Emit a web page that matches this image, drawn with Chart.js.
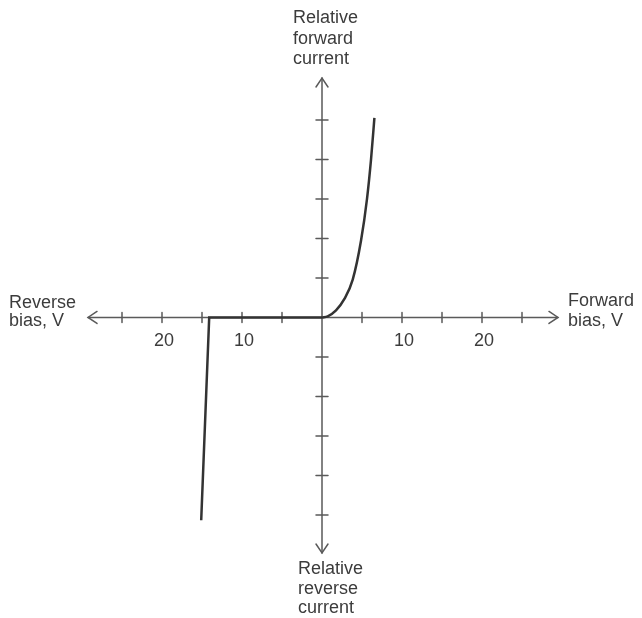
<!DOCTYPE html>
<html>
<head>
<meta charset="utf-8">
<script src="https://cdn.jsdelivr.net/npm/chart.js@4.4.1/dist/chart.umd.min.js"></script>
<style>
  html, body { margin: 0; padding: 0; background: #fff; }
  #wrap { width: 642px; height: 618px; position: relative; }
</style>
</head>
<body>
<div id="wrap"><canvas id="diodeChart"></canvas></div>
<script>
// reverse branch: flat leakage, then breakdown (bias in V, relative current)
const reverseV = [-15.1, -14.1, 0];
const reverseI = [-5.13, 0, 0];

// forward branch
const forwardV = [0, 0.71, 1.75, 2.8, 3.84, 4.88, 5.63, 6.13, 6.55];
const forwardI = [0, 0.03, 0.18, 0.47, 0.96, 1.95, 3.01, 4.0, 5.05];

// tick marks and the few labelled ticks
const xTicks = [-25, -20, -15, -10, -5, 5, 10, 15, 20, 25];
const xTickLabels = [-20, -10, 10, 20];
const yTicks = [-5, -4, -3, -2, -1, 1, 2, 3, 4, 5];

const topTitle = ['Relative', 'forward', 'current'];
const bottomTitle = ['Relative', 'reverse', 'current'];
const leftTitle = ['Reverse', 'bias, V'];
const rightTitle = ['Forward', 'bias, V'];

const AXIS_COLOR = '#5a5a5a';
const TEXT_COLOR = '#3c3c3c';
const CURVE_COLOR = '#333333';
const FONT = '18px "Liberation Sans", Arial, Helvetica, sans-serif';

function toPoints(xs, ys) {
  return xs.map(function(x, i) {
    return { x: x, y: ys[i] };
  });
}

// open chevron arrowhead, (dx, dy) is the direction the arrow points
function arrowHead(ctx, x, y, dx, dy) {
  var len = 9, half = 6;
  ctx.beginPath();
  ctx.moveTo(x - dx * len - dy * half, y - dy * len - dx * half);
  ctx.lineTo(x, y);
  ctx.lineTo(x - dx * len + dy * half, y - dy * len + dx * half);
  ctx.stroke();
}

function drawLines(ctx, lines, x, y, step) {
  lines.forEach(function(t, i) {
    ctx.fillText(t, x, y + i * step);
  });
}

const crossAxes = {
  id: 'crossAxes',
  beforeDatasetsDraw(chart) {
    const ctx = chart.ctx;
    const xs = chart.scales.x;
    const ys = chart.scales.y;
    const area = chart.chartArea;
    const ox = xs.getPixelForValue(0);
    const oy = ys.getPixelForValue(0);

    ctx.save();
    ctx.strokeStyle = AXIS_COLOR;
    ctx.lineWidth = 1.5;
    ctx.lineCap = 'round';

    ctx.beginPath();
    ctx.moveTo(area.left, oy);
    ctx.lineTo(area.right, oy);
    ctx.moveTo(ox, area.top);
    ctx.lineTo(ox, area.bottom);
    ctx.stroke();

    arrowHead(ctx, area.left, oy, -1, 0);
    arrowHead(ctx, area.right, oy, 1, 0);
    arrowHead(ctx, ox, area.top, 0, -1);
    arrowHead(ctx, ox, area.bottom, 0, 1);

    ctx.beginPath();
    xTicks.forEach(function(v) {
      var px = xs.getPixelForValue(v);
      ctx.moveTo(px, oy - 5);
      ctx.lineTo(px, oy + 5);
    });
    yTicks.forEach(function(v) {
      var py = ys.getPixelForValue(v);
      ctx.moveTo(ox - 6, py);
      ctx.lineTo(ox + 6, py);
    });
    ctx.stroke();

    ctx.fillStyle = TEXT_COLOR;
    ctx.font = FONT;
    ctx.textBaseline = 'alphabetic';
    ctx.textAlign = 'center';
    xTickLabels.forEach(function(v) {
      ctx.fillText(String(Math.abs(v)), xs.getPixelForValue(v) + 2, oy + 29);
    });

    ctx.textAlign = 'left';
    drawLines(ctx, topTitle, ox - 29, area.top - 55, 20.5);
    drawLines(ctx, bottomTitle, ox - 24, area.bottom + 21, 19.5);
    drawLines(ctx, leftTitle, 9, oy - 9, 17.5);
    drawLines(ctx, rightTitle, area.right + 10, oy - 11, 20);
    ctx.restore();
  }
};

new Chart(document.getElementById('diodeChart'), {
  type: 'scatter',
  data: {
    datasets: [
      {
        label: 'reverse',
        data: toPoints(reverseV, reverseI),
        showLine: true,
        borderColor: CURVE_COLOR,
        borderWidth: 2.5,
        tension: 0,
        pointRadius: 0
      },
      {
        label: 'forward',
        data: toPoints(forwardV, forwardI),
        showLine: true,
        borderColor: CURVE_COLOR,
        borderWidth: 2.5,
        cubicInterpolationMode: 'monotone',
        pointRadius: 0
      }
    ]
  },
  options: {
    responsive: true,
    maintainAspectRatio: false,
    animation: false,
    layout: { padding: { left: 88, right: 84, top: 78, bottom: 65 } },
    scales: {
      x: { type: 'linear', min: -29.25, max: 29.5, display: false },
      y: { type: 'linear', min: -5.96, max: 6.06, display: false }
    },
    plugins: {
      legend: { display: false },
      tooltip: { enabled: false }
    }
  },
  plugins: [crossAxes]
});
</script>
</body>
</html>
